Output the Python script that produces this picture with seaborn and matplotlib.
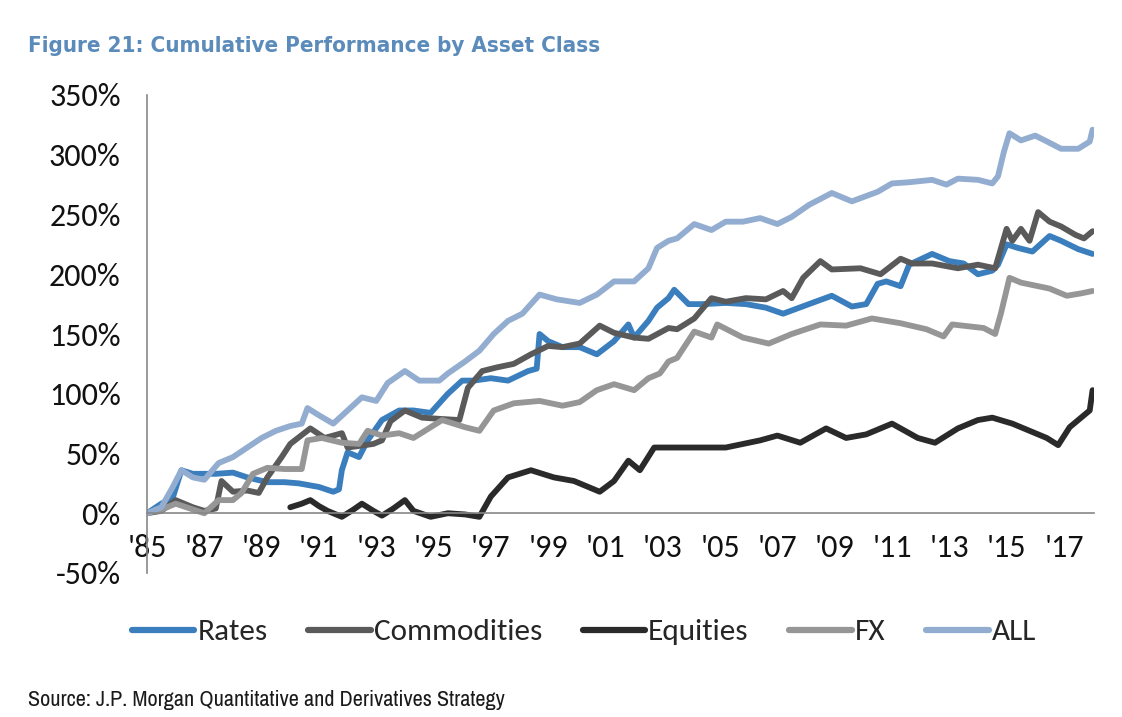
import matplotlib
matplotlib.use("Agg")
import matplotlib.pyplot as plt
from matplotlib.lines import Line2D
import pandas as pd
import seaborn as sns

# values (cumulative performance, %)
rates_years = [1985.0, 1985.5, 1985.9, 1986.2, 1986.6, 1987.0, 1987.4, 1988.0, 1988.5, 1989.2,
               1989.8, 1990.3, 1991.0, 1991.5, 1991.7, 1991.8, 1992.0, 1992.4, 1992.7, 1993.2,
               1993.8, 1994.3, 1994.9, 1995.5, 1996.0, 1996.4, 1997.0, 1997.6, 1998.3, 1998.6,
               1998.7, 1999.0, 1999.5, 2000.1, 2000.7, 2001.3, 2001.8, 2002.0, 2002.5, 2002.8,
               2003.2, 2003.4, 2003.9, 2004.4, 2005.2, 2005.9, 2006.6, 2007.2, 2008.1, 2008.9,
               2009.6, 2010.1, 2010.5, 2010.8, 2011.3, 2011.6, 2012.4, 2013.0, 2013.5, 2014.0,
               2014.5, 2014.7, 2015.0, 2015.4, 2015.9, 2016.5, 2016.9, 2017.5, 2018.0]
rates_vals = [0, 8, 13, 36, 33, 33, 33, 34, 30, 26,
              26, 25, 22, 18, 20, 36, 51, 47, 61, 78,
              86, 86, 84, 100, 111, 111, 113, 111, 119, 121,
              150, 144, 139, 139, 133, 144, 158, 147, 161, 172,
              180, 187, 175, 175, 176, 175, 172, 167, 175, 182,
              173, 175, 192, 194, 190, 208, 217, 211, 209, 200,
              203, 208, 225, 222, 219, 232, 228, 221, 217]

commod_years = [1985.0, 1985.5, 1986.0, 1986.6, 1987.0, 1987.4, 1987.6, 1988.0, 1988.5, 1988.9,
                1989.2, 1989.7, 1990.0, 1990.7, 1991.2, 1991.8, 1992.0, 1992.9, 1993.2, 1993.5,
                1994.0, 1994.6, 1995.2, 1995.9, 1996.2, 1996.7, 1997.2, 1997.8, 1998.4, 1999.0,
                1999.5, 2000.1, 2000.8, 2001.3, 2002.0, 2002.5, 2003.2, 2003.5, 2004.1, 2004.7,
                2005.2, 2005.9, 2006.6, 2007.2, 2007.5, 2007.9, 2008.5, 2008.9, 2009.9, 2010.6,
                2011.3, 2011.7, 2012.4, 2013.3, 2014.0, 2014.6, 2015.0, 2015.2, 2015.5, 2015.8,
                2016.1, 2016.5, 2016.9, 2017.4, 2017.7, 2018.0]
commod_vals = [0, 2, 11, 5, 2, 4, 27, 18, 19, 17,
               30, 47, 58, 71, 63, 67, 55, 58, 61, 77,
               86, 80, 79, 78, 105, 119, 122, 125, 133, 140,
               139, 142, 157, 151, 147, 146, 155, 154, 163, 180,
               177, 180, 179, 186, 180, 197, 211, 204, 205, 200,
               213, 209, 209, 205, 208, 205, 238, 228, 238, 228,
               252, 244, 240, 233, 230, 236]

equity_years = [1990.0, 1990.4, 1990.7, 1991.0, 1991.3, 1991.8, 1992.2, 1992.5, 1992.9, 1993.2,
                1993.6, 1994.0, 1994.3, 1994.9, 1995.5, 1996.1, 1996.6, 1997.0, 1997.6, 1998.4,
                1999.2, 1999.9, 2000.4, 2000.8, 2001.3, 2001.8, 2002.2, 2002.7, 2003.2, 2004.1,
                2005.2, 2006.4, 2007.0, 2007.8, 2008.7, 2009.4, 2010.1, 2011.0, 2011.9, 2012.5,
                2013.3, 2014.0, 2014.5, 2015.2, 2015.8, 2016.4, 2016.8, 2017.2, 2017.5, 2017.9,
                2018.0]
equity_vals = [5, 8, 11, 6, 2, -3, 3, 8, 2, -2,
               4, 11, 2, -3, 0, -1, -3, 14, 30, 36,
               30, 27, 22, 18, 27, 44, 36, 55, 55, 55,
               55, 61, 65, 59, 71, 63, 66, 75, 63, 59,
               71, 78, 80, 75, 69, 63, 57, 72, 78, 86,
               103]

fx_years = [1985.0, 1985.5, 1986.0, 1986.5, 1987.0, 1987.5, 1988.0, 1988.3, 1988.7, 1989.2,
            1989.8, 1990.4, 1990.6, 1991.1, 1991.8, 1992.4, 1992.7, 1993.2, 1993.8, 1994.3,
            1995.3, 1996.1, 1996.6, 1997.1, 1997.8, 1998.7, 1999.5, 2000.1, 2000.7, 2001.3,
            2002.0, 2002.5, 2002.9, 2003.2, 2003.5, 2004.1, 2004.7, 2004.9, 2005.8, 2006.7,
            2007.5, 2008.5, 2009.4, 2010.3, 2011.3, 2012.2, 2012.8, 2013.1, 2014.2, 2014.6,
            2014.8, 2015.1, 2015.5, 2016.5, 2017.1, 2017.6, 2018.0]
fx_vals = [0, 3, 8, 4, 0, 11, 11, 17, 33, 38,
           37, 37, 61, 63, 59, 58, 69, 65, 67, 63,
           78, 72, 69, 86, 92, 94, 90, 93, 103, 108,
           103, 113, 117, 127, 130, 152, 147, 158, 147, 142,
           150, 158, 157, 163, 159, 154, 148, 158, 155, 150,
           167, 197, 193, 188, 182, 184, 186]

all_years = [1985.0, 1985.5, 1985.9, 1986.2, 1986.6, 1987.0, 1987.5, 1988.0, 1988.5, 1989.0,
             1989.5, 1990.0, 1990.4, 1990.6, 1991.0, 1991.5, 1992.0, 1992.5, 1993.0, 1993.4,
             1994.0, 1994.5, 1995.2, 1995.5, 1996.1, 1996.6, 1997.1, 1997.6, 1998.1, 1998.7,
             1999.3, 2000.1, 2000.7, 2001.3, 2002.0, 2002.5, 2002.8, 2003.2, 2003.5, 2004.1,
             2004.7, 2005.2, 2005.8, 2006.4, 2007.0, 2007.5, 2008.1, 2008.9, 2009.6, 2010.5,
             2011.0, 2011.6, 2012.4, 2012.9, 2013.3, 2014.0, 2014.5, 2014.7, 2014.9, 2015.1,
             2015.5, 2016.0, 2016.5, 2016.9, 2017.5, 2017.9, 2018.0]
all_vals = [0, 5, 22, 36, 30, 28, 42, 47, 55, 63,
            69, 73, 75, 88, 82, 75, 86, 97, 94, 109,
            119, 111, 111, 117, 127, 136, 150, 161, 167, 183,
            179, 176, 183, 194, 194, 205, 222, 228, 230, 242,
            237, 244, 244, 247, 242, 248, 258, 268, 261, 269,
            276, 277, 279, 275, 280, 279, 276, 282, 302, 318,
            312, 316, 310, 305, 305, 311, 321]

series_names = ["Rates", "Commodities", "Equities", "FX", "ALL"]
series_colors = ["#3A7EBD", "#5A5A5A", "#2A2A2A", "#969696", "#93ADD0"]
tick_years = list(range(1985, 2018, 2))

frames = []
for name, yrs, vals in zip(series_names,
                           [rates_years, commod_years, equity_years, fx_years, all_years],
                           [rates_vals, commod_vals, equity_vals, fx_vals, all_vals]):
    frames.append(pd.DataFrame({"year": yrs, "perf": vals, "series": name}))
df = pd.concat(frames, ignore_index=True)

sns.set_style("white")
plt.rcParams["font.family"] = ["Carlito", "Lato", "DejaVu Sans"]

W, H = 1122, 717
fig = plt.figure(figsize=(W / 100, H / 100), dpi=100)
ax = fig.add_axes([147 / W, 1 - 573 / H, (1094 - 147) / W, (573 - 95) / H])

sns.lineplot(
    data=df,
    x="year",
    y="perf",
    hue="series",
    hue_order=series_names,
    palette=dict(zip(series_names, series_colors)),
    linewidth=4.2,
    estimator=None,
    legend=False,
    solid_joinstyle="round",
    ax=ax
)

ax.set_xlim(1985, 2018.05)
ax.set_ylim(-50, 350)
ax.set_yticks(range(-50, 351, 50))
ax.set_yticklabels([f"{v}%" for v in range(-50, 351, 50)])
ax.set_xticks(tick_years)
ax.set_xticklabels([f"'{y % 100:02d}" for y in tick_years])
ax.set_xlabel("")
ax.set_ylabel("")

for side in ["top", "right"]:
    ax.spines[side].set_visible(False)
ax.spines["bottom"].set_position(("data", 0))
for side in ["left", "bottom"]:
    ax.spines[side].set_color("#878787")
    ax.spines[side].set_linewidth(1.2)

ax.tick_params(axis="both", direction="out", length=7, width=1.2, color="#878787",
               labelsize=23, labelcolor="#111111")
ax.tick_params(axis="y", pad=12)
ax.tick_params(axis="x", pad=8)
ax.grid(False)

handles = [Line2D([0], [0], color=c, linewidth=4.5, solid_capstyle="round") for c in series_colors]
fig.legend(
    handles, series_names,
    loc="center",
    bbox_to_anchor=(584 / W, 1 - 632 / H),
    ncol=5,
    frameon=False,
    fontsize=22.5,
    handlelength=2.0,
    handletextpad=0.1,
    columnspacing=1.3
)

fig.text(28 / W, 1 - 46 / H, "Figure 21: Cumulative Performance by Asset Class",
         fontsize=16, fontweight="bold", fontstretch="condensed", color="#5A8BBA",
         family=["DejaVu Sans"], va="center")
fig.text(28 / W, 1 - 700 / H, "Source: J.P. Morgan Quantitative and Derivatives Strategy",
         fontsize=16, color="#1A1A1A", family=["Archivo Narrow", "DejaVu Sans"], va="center")

fig.savefig("out.png", dpi=100, facecolor="white")
